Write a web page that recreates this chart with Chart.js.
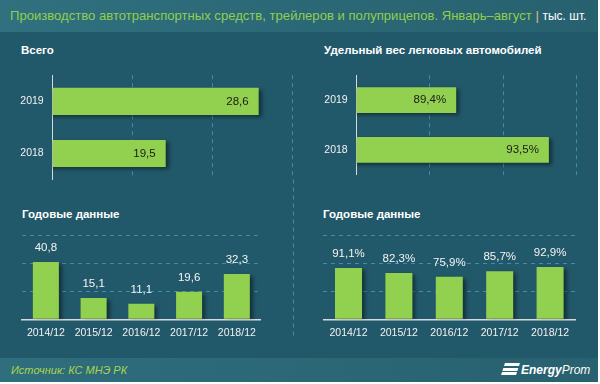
<!DOCTYPE html>
<html>
<head>
<meta charset="utf-8">
<script src="https://cdn.jsdelivr.net/npm/chart.js@4/dist/chart.umd.min.js"></script>
<style>
  html, body { margin: 0; padding: 0; background: #fff; }
  #card { position: relative; width: 598px; height: 382px; background: #22596a; overflow: hidden;
          font-family: "Liberation Sans", Arial, sans-serif; }
  #head { position: absolute; left: 0; top: 0; width: 598px; height: 32px;
          background: linear-gradient(to right, #30707f, #27616f); }
  #title { position: absolute; left: 10px; top: 8px; font-size: 13.1px; color: #8fcf4f; white-space: nowrap; }
  #title .sep { color: #e3b88f; }
  #title .unit { color: #fff; font-size: 12px; }
  #foot { position: absolute; left: 0; top: 358px; width: 598px; height: 24px;
          background: linear-gradient(to right, #2f6e7d, #28616f); }
  #src { position: absolute; left: 11px; top: 6px; font-size: 11px; font-style: italic; color: #a9d44e; }
  #logo { position: absolute; left: 503px; top: 5px; color: #fff; font-size: 12px; font-style: italic; white-space: nowrap; }
  #logo b { font-weight: bold; }
  #logo .ico { display: inline-block; width: 15px; height: 12px; margin-right: 3px; vertical-align: -1px;
               transform: skewX(-18deg);
               background: linear-gradient(#fff 0 3px, transparent 3px 4.5px, #fff 4.5px 7.5px, transparent 7.5px 9px, #fff 9px 12px); }
  .ptitle { position: absolute; color: #fff; font-weight: bold; font-size: 11.5px; white-space: nowrap; }
  canvas { position: absolute; }
</style>
</head>
<body>
<div id="card">
  <div id="head"><div id="title">Производство автотранспортных средств, трейлеров и полуприцепов. Январь–август <span class="sep">|</span> <span class="unit">тыс. шт.</span></div></div>

  <div class="ptitle" style="left:21px; top:44px;">Всего</div>
  <div class="ptitle" style="left:324px; top:44px;">Удельный вес легковых автомобилей</div>
  <div class="ptitle" style="left:22px; top:208px;">Годовые данные</div>
  <div class="ptitle" style="left:323px; top:208px;">Годовые данные</div>

  <canvas id="annualChart" style="left:0; top:200px;" width="300" height="145"></canvas>
  <canvas id="annualShareChart" style="left:300px; top:200px;" width="300" height="145"></canvas>
  <canvas id="totalChart" style="left:0; top:60px;" width="300" height="285"></canvas>
  <canvas id="shareChart" style="left:300px; top:60px;" width="300" height="130"></canvas>

  <div id="foot">
    <div id="src">Источник: КС МНЭ РК</div>
    <div id="logo"><span class="ico"></span><b>Energy</b>Prom</div>
  </div>
</div>

<script>
// Январь–август
const periodYears = ['2019', '2018'];
const totalValues = [28.6, 19.5];
const totalGrid = [8.44, 16.27, 24.1, 31.93];
const shareValues = [89.4, 93.5];
const shareGrid = [85, 88.24, 91.49, 94.73];

// Годовые данные
const annualLabels = ['2014/12', '2015/12', '2016/12', '2017/12', '2018/12'];
const annualTotal = [40.8, 15.1, 11.1, 19.6, 32.3];
const annualShare = [91.1, 82.3, 75.9, 85.7, 92.9];

const GREEN = '#92d050';
const GRID = '#3d8eab';
const AXIS = '#d9d9d9';

Chart.defaults.font.family = '"Liberation Sans", Arial, sans-serif';
Chart.defaults.font.size = 10.5;
Chart.defaults.color = '#f2f2f2';
Chart.defaults.animation = false;
Chart.defaults.plugins.legend.display = false;
Chart.defaults.plugins.tooltip.enabled = false;

const fmt = (v, pct) => v.toFixed(1).replace('.', ',') + (pct ? '%' : '');

// shadow under the bars + value labels
const barDecor = {
    id: 'barDecor',
    beforeDatasetsDraw(chart) {
        const ctx = chart.ctx;
        ctx.save();
        ctx.shadowColor = 'rgba(0, 0, 0, 0.45)';
        ctx.shadowBlur = 4;
        ctx.shadowOffsetX = 3;
        ctx.shadowOffsetY = 2;
    },
    afterDatasetsDraw(chart, args, opts) {
        const ctx = chart.ctx;
        ctx.restore();
        const meta = chart.getDatasetMeta(0);
        const data = chart.data.datasets[0].data;
        ctx.save();
        ctx.font = '11.5px "Liberation Sans", Arial, sans-serif';
        ctx.textBaseline = 'middle';
        meta.data.forEach((bar, i) => {
            const txt = fmt(data[i], opts.pct);
            if (chart.options.indexAxis === 'y') {
                ctx.fillStyle = '#1b1b1b';
                ctx.textAlign = 'right';
                ctx.fillText(txt, bar.x - 10, bar.y);
            } else {
                ctx.fillStyle = '#f4f4f4';
                ctx.textAlign = 'center';
                ctx.fillText(txt, bar.x, bar.y - 14);
            }
        });
        ctx.restore();
    }
};

// the last grid line of the top-left chart runs on down the panel
const gridTail = {
    id: 'gridTail',
    afterDraw(chart, args, opts) {
        if (!opts.to) return;
        const x = Math.round(chart.scales.x.getPixelForValue(totalGrid[totalGrid.length - 1])) + 0.5;
        const ctx = chart.ctx;
        ctx.save();
        ctx.strokeStyle = GRID;
        ctx.lineWidth = 1;
        ctx.setLineDash([4, 4]);
        ctx.beginPath();
        ctx.moveTo(x, chart.chartArea.bottom);
        ctx.lineTo(x, opts.to);
        ctx.stroke();
        ctx.restore();
    }
};

function hBar(id, values, grid, axisWidth, pad, pct, tail) {
    new Chart(document.getElementById(id), {
        type: 'bar',
        data: {
            labels: periodYears,
            datasets: [{ data: values, backgroundColor: GREEN, barPercentage: 0.52, categoryPercentage: 1 }]
        },
        options: {
            indexAxis: 'y',
            responsive: false,
            layout: { padding: pad },
            scales: {
                x: {
                    min: grid[0],
                    max: grid[grid.length - 1],
                    afterBuildTicks: axis => { axis.ticks = grid.map(v => ({ value: v })); },
                    afterFit: s => { s.height = 0; },
                    ticks: { display: false },
                    grid: { color: c => c.index === 0 ? 'transparent' : GRID, drawTicks: false },
                    border: { display: false, dash: [4, 4] }
                },
                y: {
                    afterFit: s => { s.width = axisWidth; },
                    ticks: { padding: 9, color: '#f2f2f2' },
                    grid: { display: false, drawTicks: false },
                    border: { display: true, color: AXIS, width: 1 }
                }
            },
            plugins: { barDecor: { pct: pct }, gridTail: { to: tail } }
        },
        plugins: [barDecor, gridTail]
    });
}

function vBar(id, values, max, step, left, right, pct, barPct) {
    new Chart(document.getElementById(id), {
        type: 'bar',
        data: {
            labels: annualLabels,
            datasets: [{ data: values, backgroundColor: GREEN, barPercentage: barPct, categoryPercentage: 1 }]
        },
        options: {
            responsive: false,
            layout: { padding: { left: left, right: right, top: 35, bottom: 0 } },
            scales: {
                x: {
                    afterFit: s => { s.height = 25.7; },
                    ticks: { padding: 8, color: '#f2f2f2', maxRotation: 0 },
                    grid: { display: false, drawTicks: false },
                    border: { display: true, color: AXIS, width: 1.5 }
                },
                y: {
                    min: 0,
                    max: max,
                    ticks: { display: false, stepSize: step },
                    afterFit: s => { s.width = 0; },
                    grid: { color: c => c.tick.value === 0 ? 'transparent' : GRID, drawTicks: false },
                    border: { display: false, dash: [4, 4] }
                }
            },
            plugins: { barDecor: { pct: pct } }
        },
        plugins: [barDecor]
    });
}

hBar('totalChart', totalValues, totalGrid, 52.7, { left: 0, right: 7.3, top: 13.5, bottom: 165.5 }, false, 277);
hBar('shareChart', shareValues, shareGrid, 56.7, { left: 0, right: 23.3, top: 13.5, bottom: 10.5 }, true, 0);
vBar('annualChart', annualTotal, 60, 20, 22, 39.3, false, 0.545);
vBar('annualShareChart', annualShare, 150, 50, 23.3, 24.7, true, 0.536);
</script>
</body>
</html>
